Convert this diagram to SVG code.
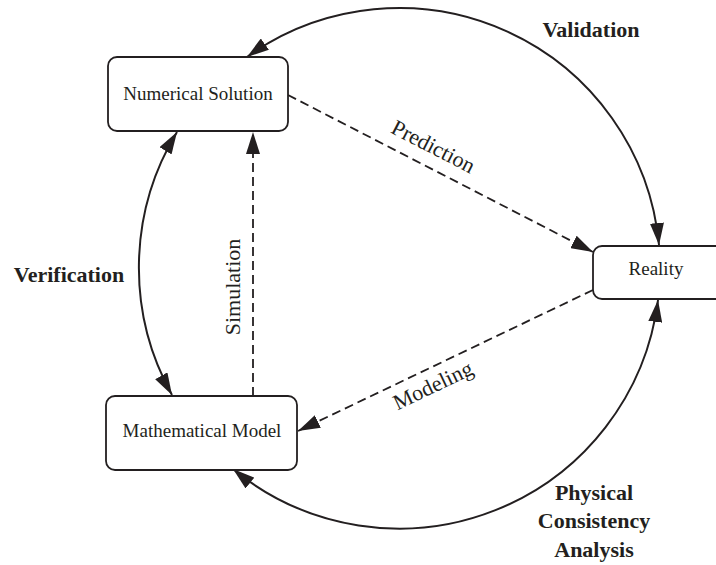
<svg xmlns="http://www.w3.org/2000/svg" width="716" height="565" viewBox="0 0 716 565">
<style>
.box{fill:#fff;stroke:#231f20;stroke-width:1.8}
.lbl{font-family:"Liberation Serif","Times New Roman",serif;font-size:19px;fill:#231f20;text-anchor:middle}
.edge{font-family:"Liberation Serif","Times New Roman",serif;font-size:22px;fill:#231f20;text-anchor:middle}
.bold{font-family:"Liberation Serif","Times New Roman",serif;font-size:22px;font-weight:bold;fill:#231f20;text-anchor:middle}
.arc{fill:none;stroke:#231f20;stroke-width:2}
.dash{fill:none;stroke:#231f20;stroke-width:1.8;stroke-dasharray:9 5}
</style>
<defs>
<marker id="ah" markerUnits="userSpaceOnUse" viewBox="0 0 22 14" markerWidth="22" markerHeight="14" refX="22" refY="7" orient="auto-start-reverse">
<path d="M0,0 L22,7 L0,14 z" fill="#231f20"/>
</marker>
</defs>
<rect width="716" height="565" fill="#fff"/>
<g id="connectors">
<path class="arc" d="M659 245 A261 261 0 0 0 247 57" marker-start="url(#ah)" marker-end="url(#ah)"/>
<path class="arc" d="M658 300 A261 261 0 0 1 233 469" marker-start="url(#ah)" marker-end="url(#ah)"/>
<path class="arc" d="M177 132 A261 261 0 0 0 172 395" marker-start="url(#ah)" marker-end="url(#ah)"/>
<path class="dash" d="M253 396 L253 132" marker-end="url(#ah)"/>
<path class="dash" d="M288 95 L593 252" marker-end="url(#ah)"/>
<path class="dash" d="M593 290 L298 431" marker-end="url(#ah)"/>
<text class="edge" transform="translate(240 287) rotate(-90)">Simulation</text>
<text class="edge" transform="translate(430 153) rotate(27.2)">Prediction</text>
<text class="edge" transform="translate(436 392) rotate(-25.5)">Modeling</text>
<text class="bold" x="591" y="37">Validation</text>
<text class="bold" x="69" y="282">Verification</text>
<text class="bold" x="594" y="500">Physical</text>
<text class="bold" x="594" y="528">Consistency</text>
<text class="bold" x="594" y="557">Analysis</text>
</g>
<g id="numerical-solution">
<rect class="box" x="108" y="57" width="180" height="74" rx="9"/>
<text class="lbl" x="198" y="100">Numerical Solution</text>
</g>
<g id="reality">
<rect class="box" x="593" y="246" width="135" height="53" rx="9"/>
<text class="lbl" x="656" y="275">Reality</text>
</g>
<g id="mathematical-model">
<rect class="box" x="106" y="396" width="191" height="74" rx="9"/>
<text class="lbl" x="202" y="437">Mathematical Model</text>
</g>
</svg>
